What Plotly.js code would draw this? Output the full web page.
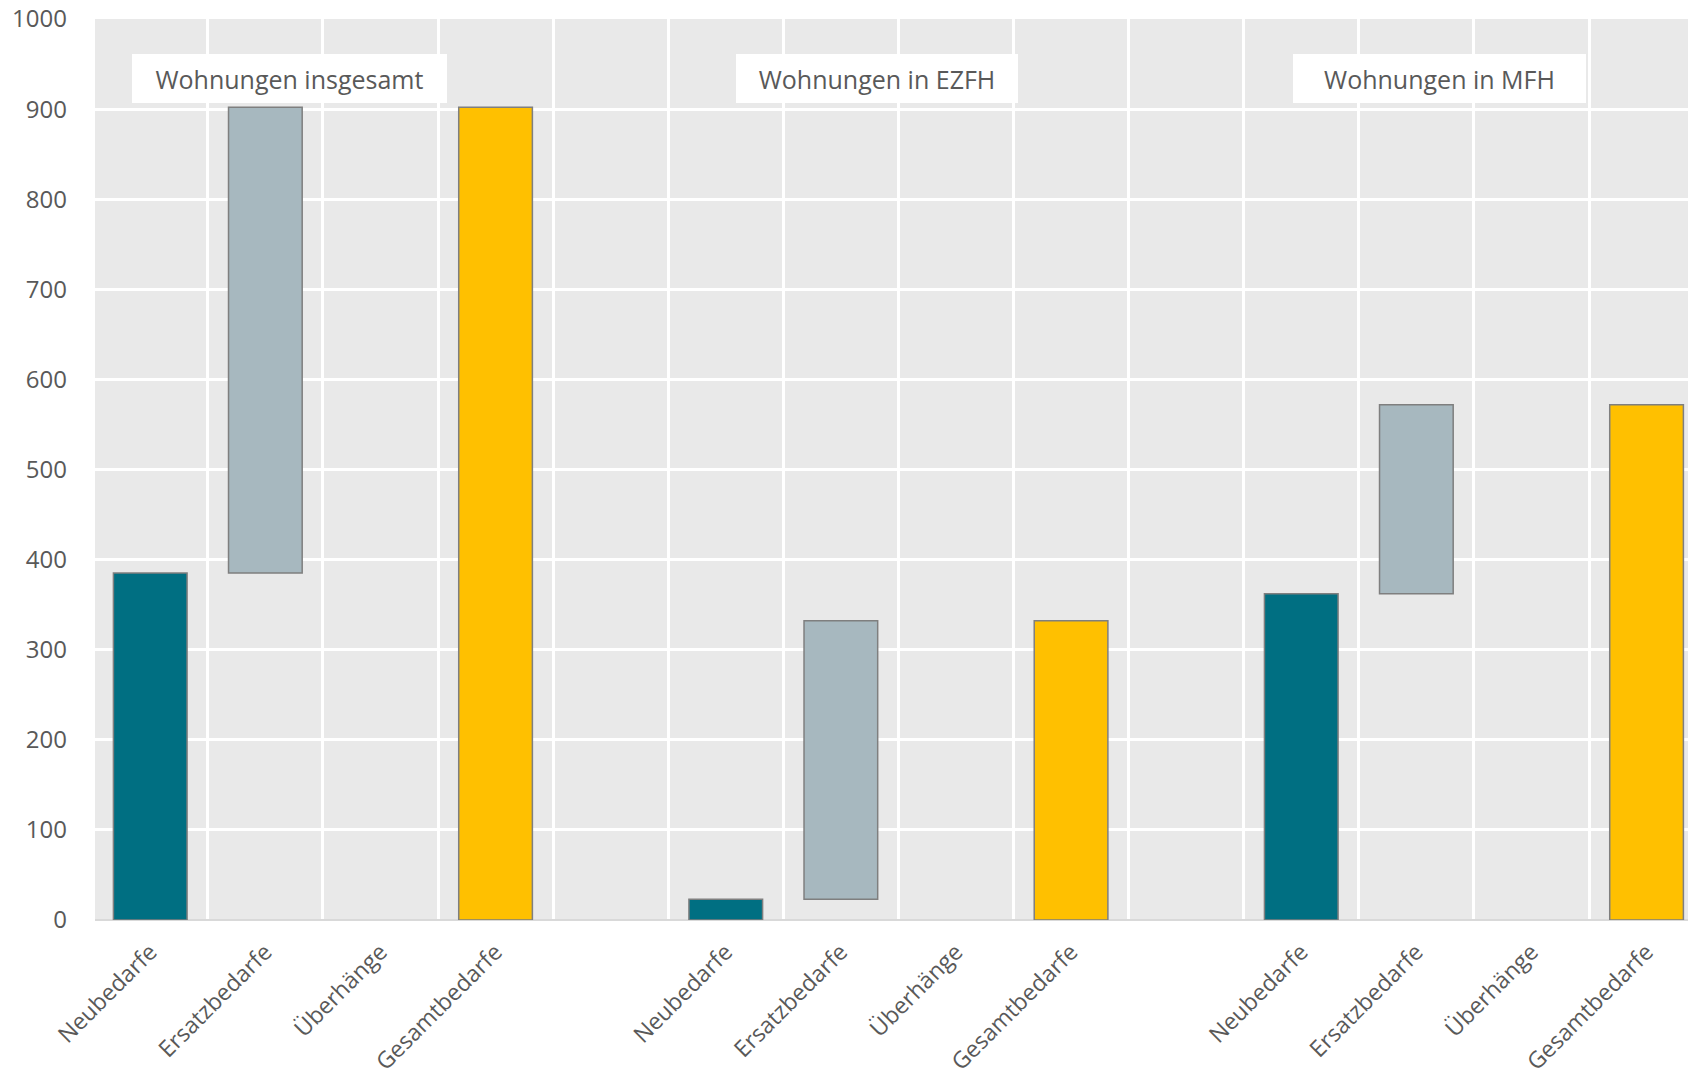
<!DOCTYPE html>
<html>
<head>
<meta charset="utf-8">
<script src="https://cdn.plot.ly/plotly-3.0.1.min.js"></script>
<style>
  html, body { margin: 0; padding: 0; background: #ffffff; }
  #chart { width: 1688px; height: 1079px; }
</style>
</head>
<body>
<div id="chart"></div>
<script>
// ---- Data ----
const groups = ["Wohnungen insgesamt", "Wohnungen in EZFH", "Wohnungen in MFH"];
const categories = ["Neubedarfe", "Ersatzbedarfe", "Überhänge", "Gesamtbedarfe"];
const neubedarfe = [385, 23, 362];
const ersatzbedarfe = [517, 309, 210];
const ueberhaenge = [0, 0, 0];
const gesamtbedarfe = [902, 332, 572];
const yTicks = [0, 100, 200, 300, 400, 500, 600, 700, 800, 900, 1000];

// ---- Styling ----
const textColor = "#595959";
const fontFamily = "'Open Sans', 'Noto Sans', sans-serif";
const barLine = { color: "#7f7f7f", width: 1.5 };
const slotsPerGroup = categories.length + 1; // one empty slot between groups

const pos = (g, k) => g * slotsPerGroup + k;

const xNeu = groups.map((_, g) => pos(g, 0));
const xErs = groups.map((_, g) => pos(g, 1));
const xUeb = groups.map((_, g) => pos(g, 2));
const xGes = groups.map((_, g) => pos(g, 3));

const barWidth = 0.64;

const traces = [
  {
    type: "bar", name: "Neubedarfe", x: xNeu, y: neubedarfe, base: groups.map(() => 0),
    width: barWidth, marker: { color: "#006F82", line: barLine }
  },
  {
    type: "bar", name: "Ersatzbedarfe", x: xErs, y: ersatzbedarfe, base: neubedarfe,
    width: barWidth, marker: { color: "#A7B8BF", line: barLine }
  },
  {
    type: "bar", name: "Überhänge", x: xUeb, y: ueberhaenge,
    base: neubedarfe.map((v, i) => v + ersatzbedarfe[i]),
    width: barWidth, marker: { color: "#D9D9D9", line: { width: 0 } }
  },
  {
    type: "bar", name: "Gesamtbedarfe", x: xGes, y: gesamtbedarfe, base: groups.map(() => 0),
    width: barWidth, marker: { color: "#FFC000", line: barLine }
  }
];

// tick labels at bar centres, grid lines at slot boundaries
const tickvals = [];
const ticktext = [];
groups.forEach((_, g) => categories.forEach((c, k) => { tickvals.push(pos(g, k)); ticktext.push(c); }));
const nSlots = groups.length * slotsPerGroup - 1;
const boundaries = [];
for (let i = 0; i < nSlots; i++) boundaries.push(i + 0.5);

const boxWidths = [315, 282, 293];
const boxX = [1.21, 6.31, 11.20];
const annotations = groups.map((t, g) => ({
  text: t, x: boxX[g], y: 934, xref: "x", yref: "y",
  showarrow: false, bgcolor: "#ffffff", borderwidth: 0, borderpad: 0,
  width: boxWidths[g], height: 49, align: "center", valign: "middle",
  font: { family: fontFamily, size: 25, color: textColor }
}));

const layout = {
  width: 1688, height: 1079,
  margin: { l: 95, r: 0, t: 19, b: 159, pad: 0 },
  paper_bgcolor: "#ffffff",
  plot_bgcolor: "#e9e9e9",
  barmode: "overlay",
  showlegend: false,
  font: { family: fontFamily, color: textColor },
  xaxis: {
    type: "linear",
    range: [-0.48, 13.36],
    tickmode: "array", tickvals: tickvals, ticktext: ticktext,
    tickangle: -45,
    tickfont: { family: fontFamily, size: 23, color: textColor },
    ticks: "", ticklabelstandoff: 13,
    showgrid: false, zeroline: false, showline: false,
    minor: { tickmode: "array", tickvals: boundaries, showgrid: true, gridcolor: "#ffffff", gridwidth: 3, ticks: "" },
    fixedrange: true
  },
  yaxis: {
    range: [0, 1000],
    tickmode: "array", tickvals: yTicks, ticktext: yTicks.map(String),
    tickfont: { family: fontFamily, size: 24, color: textColor },
    ticks: "", ticklabelstandoff: 27,
    showgrid: true, gridcolor: "#ffffff", gridwidth: 3,
    zeroline: true, zerolinecolor: "#d9d9d9", zerolinewidth: 2,
    showline: false,
    fixedrange: true
  },
  annotations: annotations
};

Plotly.newPlot("chart", traces, layout, { staticPlot: true, displayModeBar: false });
</script>
</body>
</html>
